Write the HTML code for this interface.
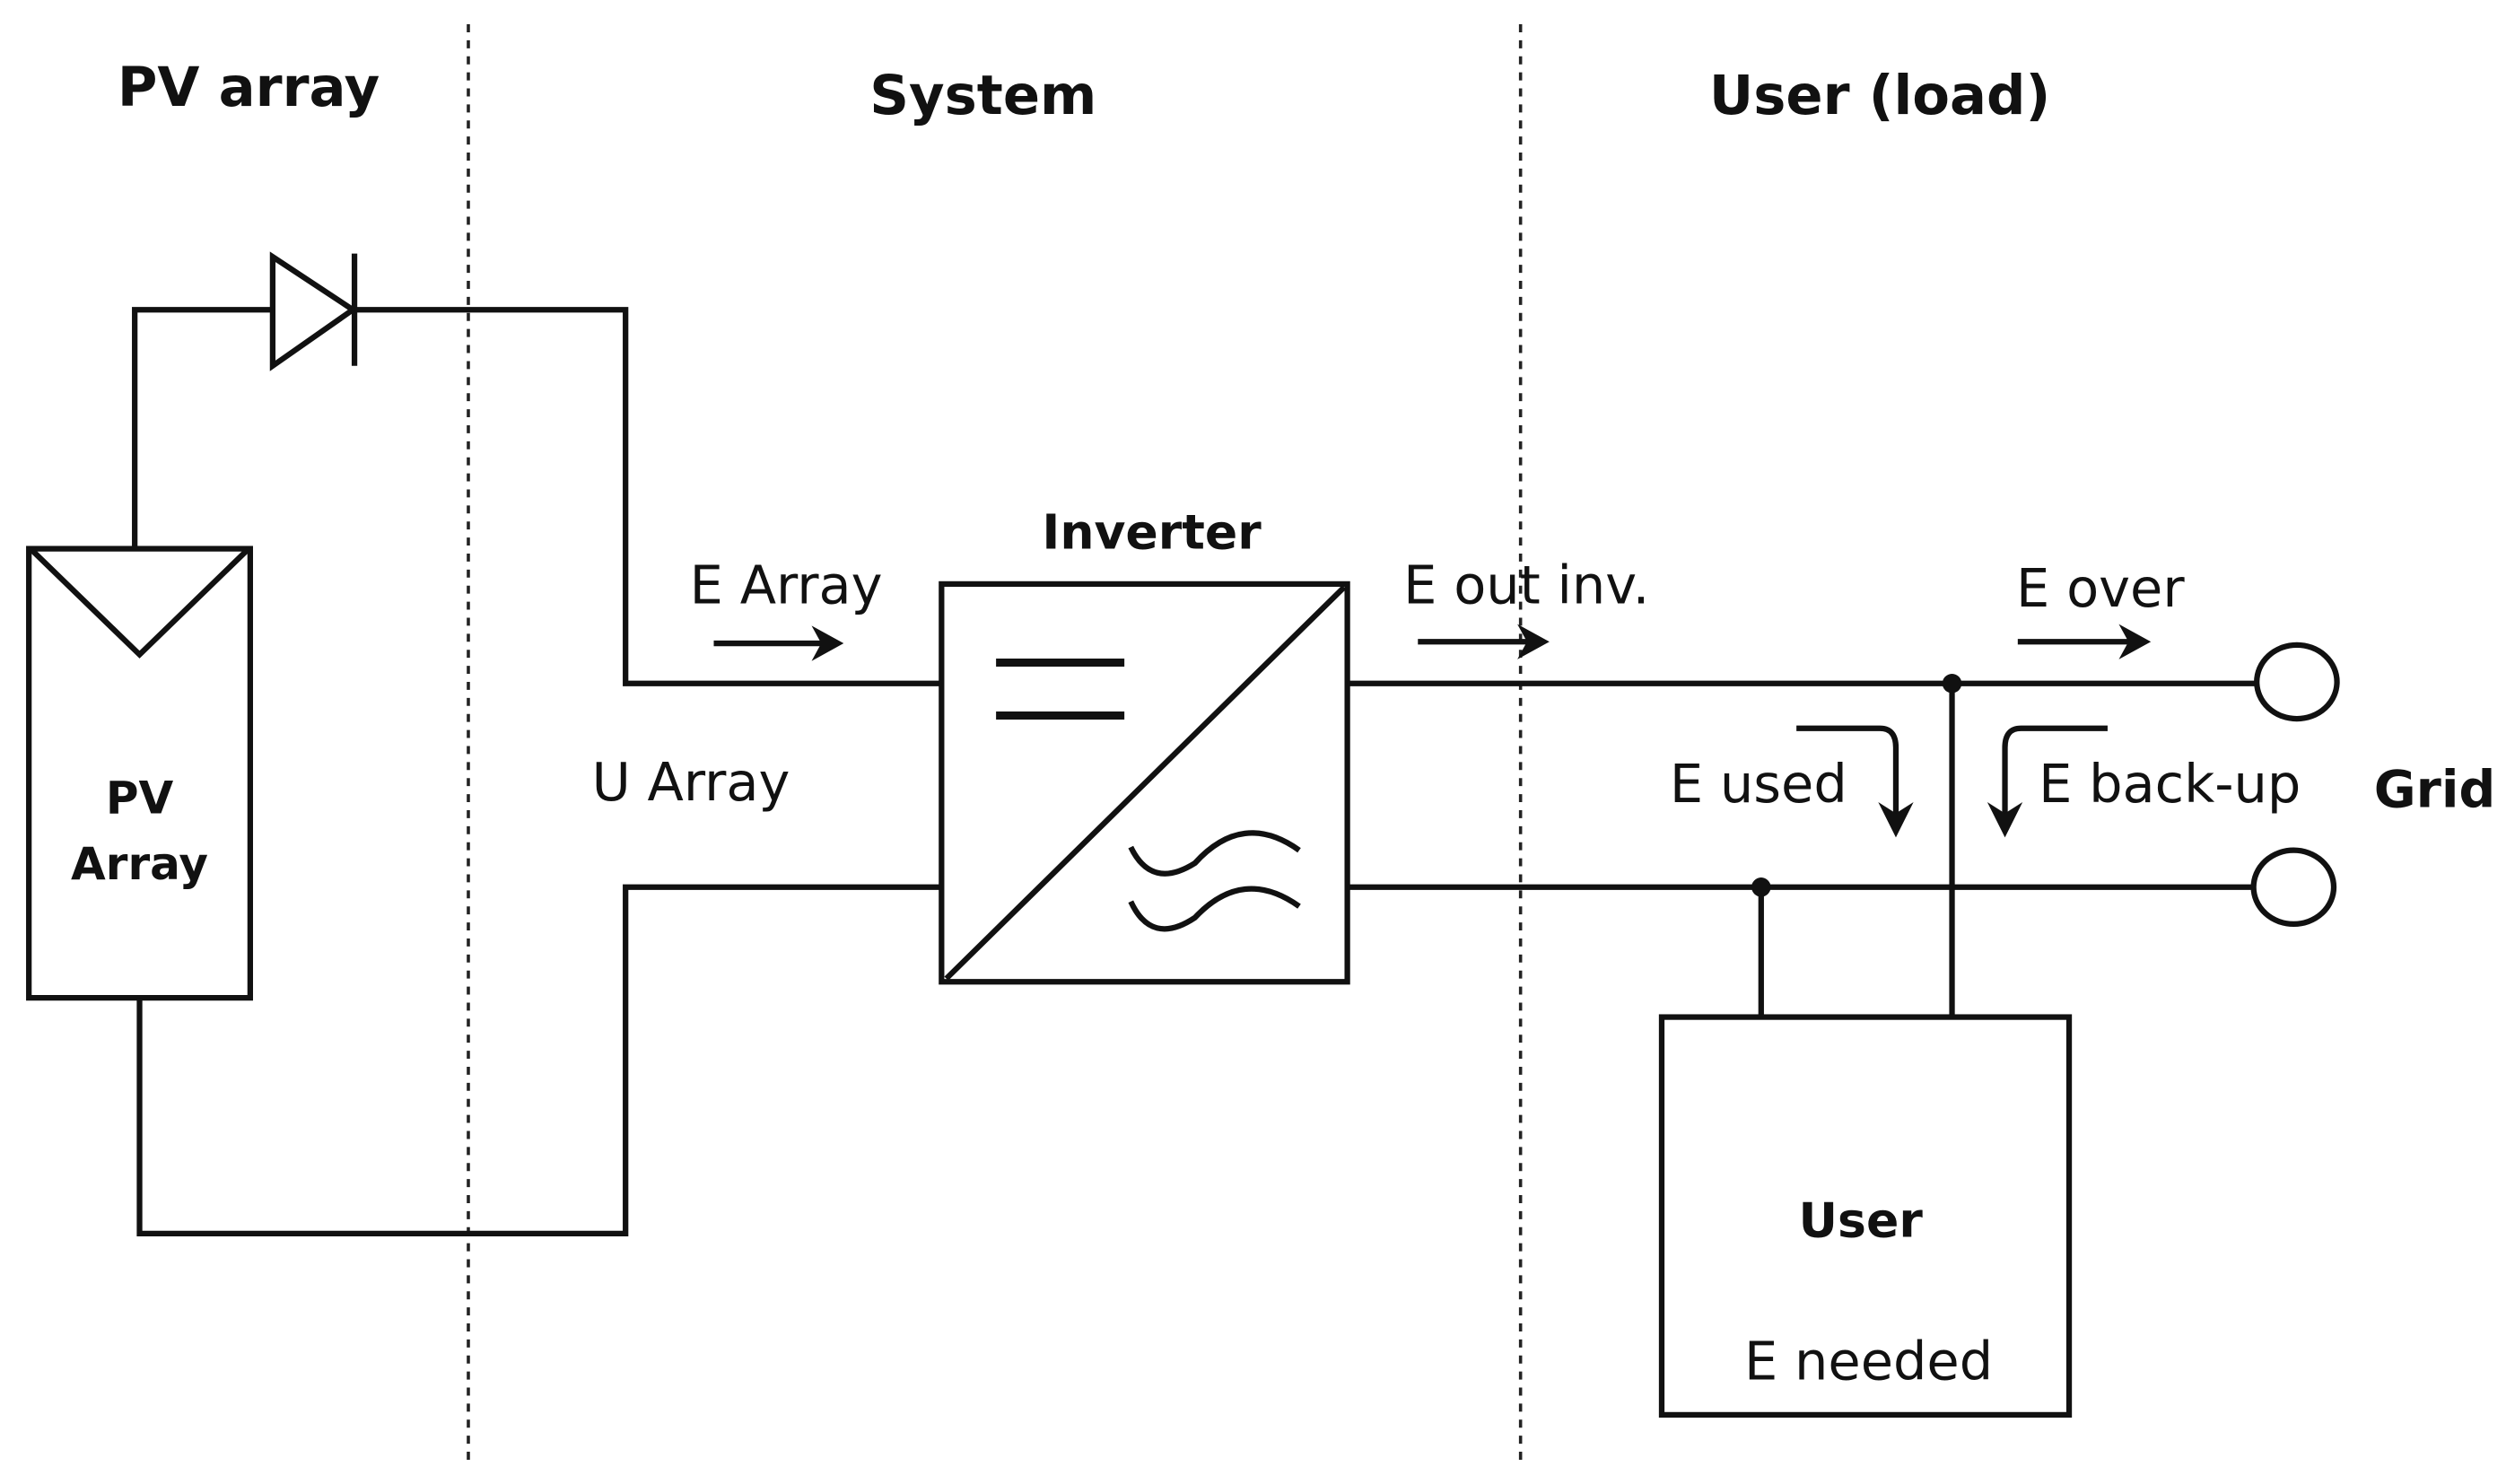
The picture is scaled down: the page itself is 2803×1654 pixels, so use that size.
<!DOCTYPE html>
<html><head><meta charset="utf-8"><style>
html,body{margin:0;padding:0;background:#fff;}
svg{display:block;}
text{font-family:"DejaVu Sans","Liberation Sans",sans-serif;fill:#111;}
.b{font-weight:bold;}
.n{fill:#222;}
</style></head><body>
<svg width="2803" height="1654" viewBox="0 0 1568 925" xmlns="http://www.w3.org/2000/svg">
<g stroke="#222" stroke-width="2" stroke-dasharray="5,5" fill="none">
<line x1="292" y1="15" x2="292" y2="915"/>
<line x1="948" y1="15" x2="948" y2="910"/>
</g>
<text x="155" y="66" font-size="34" class="b" text-anchor="middle">PV array</text>
<text x="613" y="71" font-size="34" class="b" text-anchor="middle">System</text>
<text x="1172" y="71" font-size="34" class="b" text-anchor="middle">User (load)</text>
<g stroke="#111" stroke-width="3.5" fill="none">
<polyline points="84,342 84,193 170,193"/>
<polygon points="170,160 170,228 220,193"/>
<line x1="221" y1="158" x2="221" y2="228"/>
<polyline points="221,193 390,193 390,426 587,426"/>
<rect x="18" y="342" width="138" height="280"/>
<polyline points="20,343 87,408 154,343"/>
<polyline points="87,622 87,769 390,769 390,553 587,553"/>
<rect x="587" y="364" width="253" height="248"/>
<line x1="590" y1="610" x2="838" y2="366"/>
<line x1="621" y1="413" x2="701" y2="413" stroke-width="5"/>
<line x1="621" y1="446" x2="701" y2="446" stroke-width="5"/>
<path d="M705,528 Q718,555 745,538 Q775,505 810,530"/>
<path d="M705,562 Q718,590 745,572 Q775,540 810,565"/>
<line x1="840" y1="426" x2="1408" y2="426"/>
<line x1="840" y1="553" x2="1405" y2="553"/>
<ellipse cx="1432" cy="425" rx="25" ry="23"/>
<ellipse cx="1430" cy="553" rx="25" ry="23"/>
<line x1="1217" y1="426" x2="1217" y2="634"/>
<line x1="1098" y1="553" x2="1098" y2="634"/>
<rect x="1036" y="634" width="254" height="248"/>
<line x1="445" y1="401" x2="520" y2="401"/>
<line x1="884" y1="400" x2="960" y2="400"/>
<line x1="1258" y1="400" x2="1335" y2="400"/>
<path d="M1120,454 L1172,454 Q1182,454 1182,466 L1182,512"/>
<path d="M1314,454 L1260,454 Q1250,454 1250,466 L1250,512"/>
</g>
<g fill="#111">
<polygon points="506,390 526,401 506,412 512,401"/>
<polygon points="946,389 966,400 946,411 952,400"/>
<polygon points="1321,389 1341,400 1321,411 1327,400"/>
<polygon points="1171,500 1182,522 1193,500 1182,507"/>
<polygon points="1239,500 1250,522 1261,500 1250,507"/>
</g>
<circle cx="1217" cy="426" r="6" fill="#111"/>
<circle cx="1098" cy="553" r="6" fill="#111"/>
<text x="87" y="507" font-size="28" class="b" text-anchor="middle">PV</text>
<text x="87" y="548" font-size="28" class="b" text-anchor="middle">Array</text>
<text x="718" y="342" font-size="30" class="b" text-anchor="middle">Inverter</text>
<text x="1160" y="771" font-size="30" class="b" text-anchor="middle">User</text>
<text x="1480" y="503" font-size="32" class="b">Grid</text>
<g font-size="33" class="n">
<text x="430" y="376">E Array</text>
<text x="369" y="499">U Array</text>
<text x="875" y="376">E out inv.</text>
<text x="1257" y="378">E over</text>
<text x="1041" y="500">E used</text>
<text x="1271" y="500">E back-up</text>
<text x="1165" y="860" text-anchor="middle">E needed</text>
</g>
</svg>
</body></html>
